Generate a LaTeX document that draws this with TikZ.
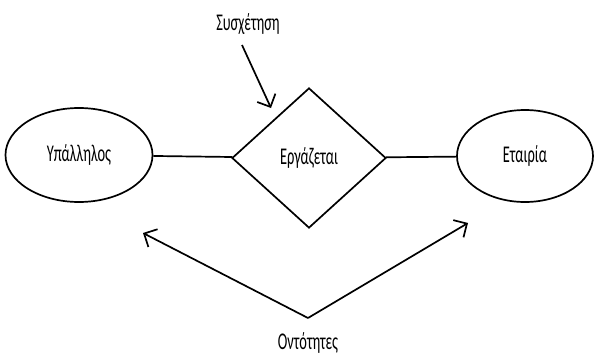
\documentclass[tikz,border=0pt]{standalone}
\usepackage{fontspec}
\setmainfont[FakeStretch=0.6]{Carlito}
\usetikzlibrary{shapes.geometric,arrows.meta}
\begin{document}
\begin{tikzpicture}[x=0.5pt, y=-0.5pt, line width=0.85pt, font=\fontsize{12}{14}\selectfont,
	>={Straight Barb[length=5pt,width=10pt]},
	entity/.style={ellipse, draw, inner sep=0pt},
	relation/.style={diamond, draw, inner sep=0pt, minimum width=77pt, minimum height=70pt},
	label/.style={inner sep=1pt}]
	\useasboundingbox (0,0) rectangle (594,359);
	%––––– shapes –––––
	\node[entity, minimum width=73.5pt, minimum height=47pt] (emp) at (79,155) {Υπάλληλος};
	\node[relation] (works) at (309,158) {Εργάζεται};
	\node[entity, minimum width=68pt, minimum height=46pt] (comp) at (525,156) {Εταιρία};
	\draw (emp) -- (works);
	\draw (works) -- (comp);

	%––––– labels –––––
	\node[label] (rel) at (248,24) {Συσχέτηση};
	\coordinate (relstart) at (242,45);
	\coordinate (relend) at (271,108);
	\draw[->] (relstart) -- (relend);

	\node[label] (ent) at (308,343) {Οντότητες};
	\coordinate (vtx) at (308,318);
	\coordinate (lefttip) at (143,233);
	\coordinate (righttip) at (468,223);
	\draw[->] (vtx) -- (lefttip);
	\draw[->] (vtx) -- (righttip);
\end{tikzpicture}
\end{document}
